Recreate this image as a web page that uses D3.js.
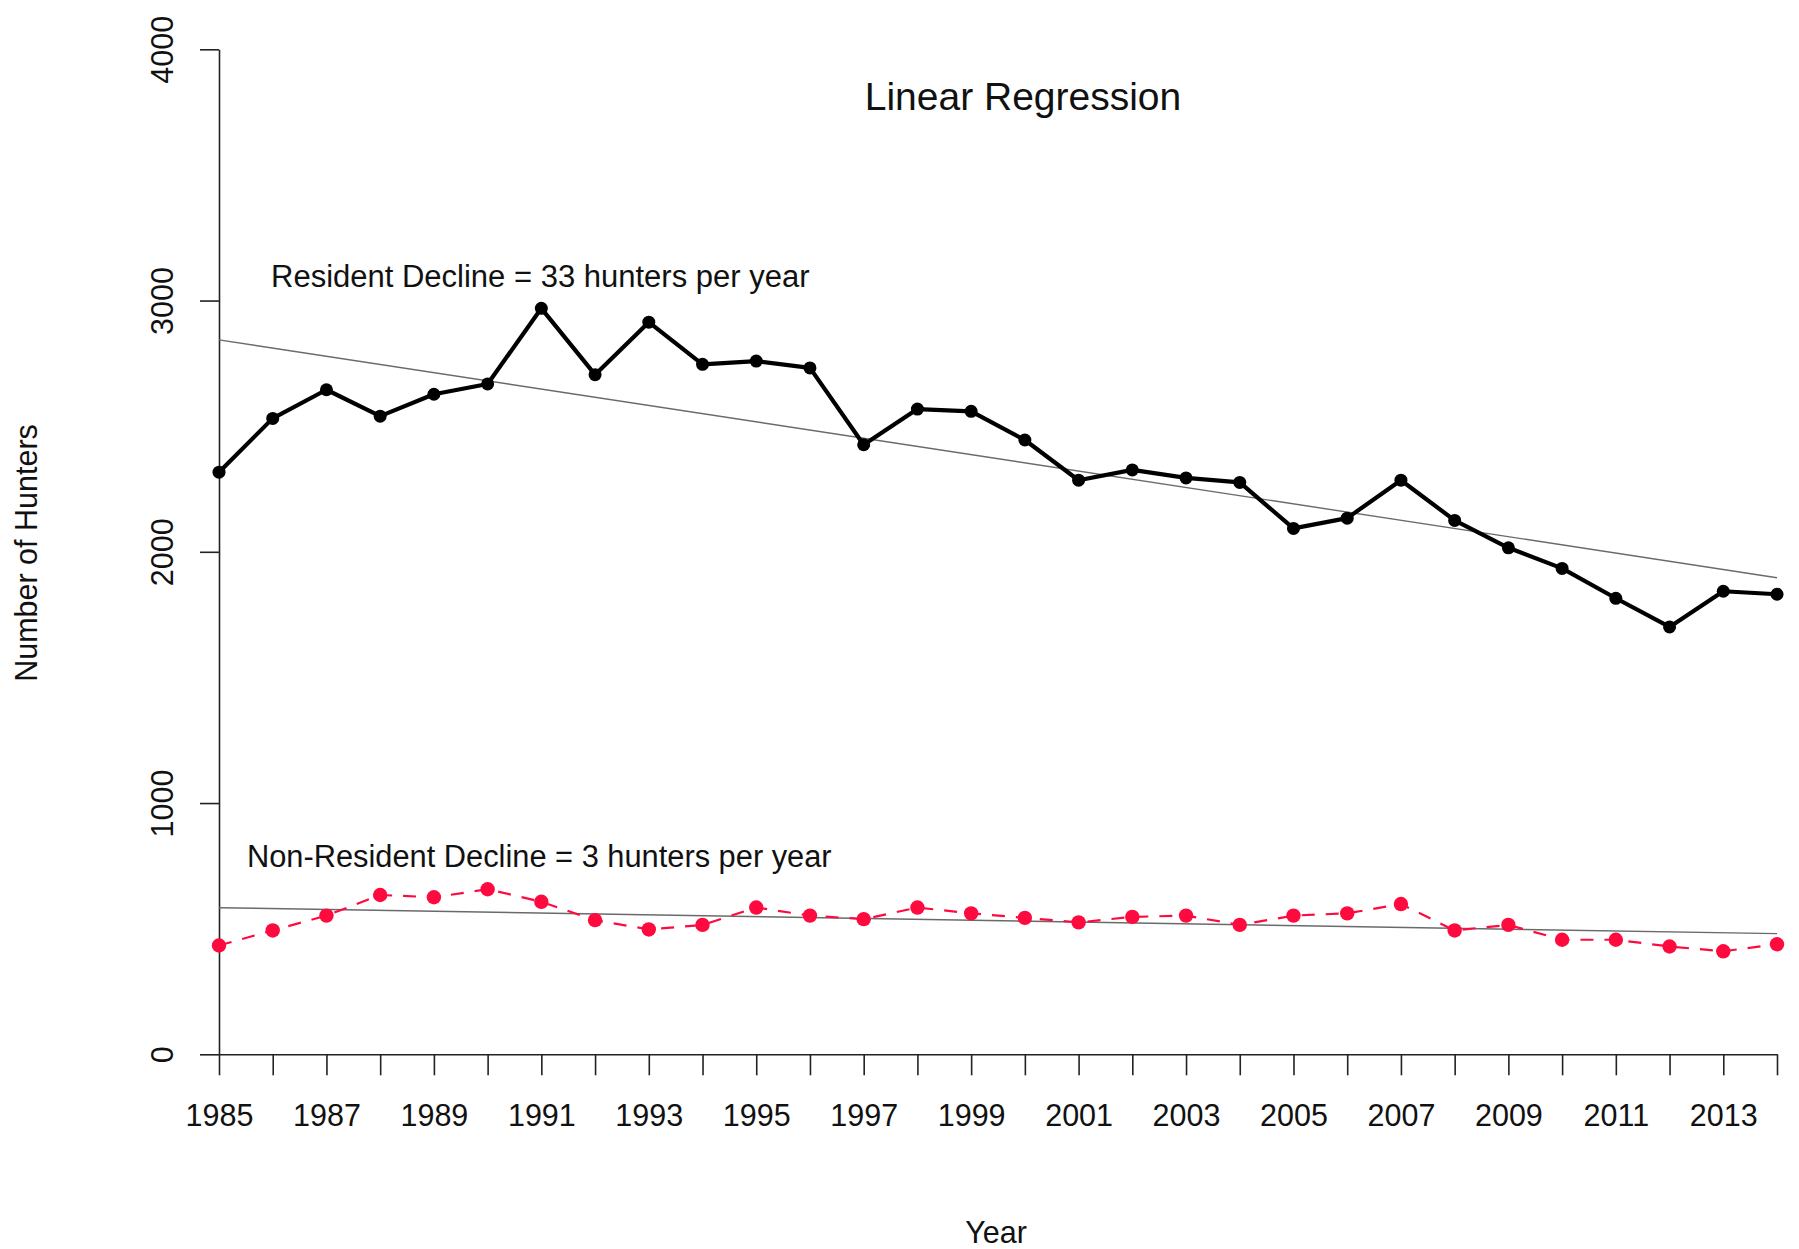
<!DOCTYPE html>
<html>
<head>
<meta charset="utf-8">
<script src="https://cdn.jsdelivr.net/npm/d3@7"></script>
<style>
  body { margin: 0; background: #fff; }
  text { font-family: "Liberation Sans", Arial, sans-serif; fill: #111; }
</style>
</head>
<body>
<script>
// data
var years = [1985,1986,1987,1988,1989,1990,1991,1992,1993,1994,1995,1996,1997,1998,1999,
             2000,2001,2002,2003,2004,2005,2006,2007,2008,2009,2010,2011,2012,2013,2014];
var resident = [2317,2531,2645,2540,2627,2668,2969,2705,2914,2746,2759,2732,2426,2568,2559,
                2445,2285,2326,2294,2276,2093,2134,2285,2125,2016,1934,1815,1701,1843,1831];
var nonResident = [433,493,552,634,625,657,607,534,497,515,584,552,538,584,561,
                   543,525,547,552,515,552,561,598,493,515,456,456,429,410,438];
var yTicks = [0,1000,2000,3000,4000];
var xLabelYears = [1985,1987,1989,1991,1993,1995,1997,1999,2001,2003,2005,2007,2009,2011,2013];

var width = 1799, height = 1249;
var svg = d3.select("body").append("svg")
    .attr("width", width)
    .attr("height", height);

svg.append("rect").attr("width", width).attr("height", height).attr("fill", "#fff");

/* scales */
var x = d3.scaleLinear().domain([1985, 2014]).range([219, 1777]);
var y = d3.scaleLinear().domain([0, 4000]).range([1054.3, 49.3]);

/* least squares fit */
function fit(xs, ys){
    var mx = d3.mean(xs), my = d3.mean(ys);
    var sxy = d3.sum(xs, function(v, i){ return (v - mx) * (ys[i] - my); });
    var sxx = d3.sum(xs, function(v){ return (v - mx) * (v - mx); });
    var b = sxy / sxx;
    return { a: my - b * mx, b: b };
}

/* axes */
var yAxis = svg.append("g")
    .attr("transform", "translate(" + x(1985) + ",0)")
    .call(d3.axisLeft(y).tickValues(yTicks).tickSize(19).tickSizeOuter(0).tickFormat(d3.format("d")));
yAxis.selectAll("text")
    .attr("transform", "rotate(-90)")
    .attr("x", 0).attr("y", -46).attr("dy", 0)
    .attr("text-anchor", "middle")
    .attr("font-size", 30.5);

var xAxis = svg.append("g")
    .attr("transform", "translate(0," + y(0) + ")")
    .call(d3.axisBottom(x).tickValues(years).tickSize(21).tickSizeOuter(0)
          .tickFormat(function(d){ return xLabelYears.indexOf(d) >= 0 ? d : ""; }));
xAxis.selectAll("text")
    .attr("y", 72).attr("dy", 0)
    .attr("font-size", 30.5);

svg.selectAll(".domain, .tick line").attr("stroke", "#222").attr("stroke-width", 1.6);
svg.selectAll(".tick text").attr("fill", "#111").attr("font-family", "Liberation Sans, Arial, sans-serif");

/* regression lines */
[resident, nonResident].forEach(function(series){
    var f = fit(years, series);
    svg.append("line")
        .attr("x1", x(1985)).attr("y1", y(f.a + f.b * 1985))
        .attr("x2", x(2014)).attr("y2", y(f.a + f.b * 2014))
        .attr("stroke", "#6a6a6a")
        .attr("stroke-width", 1.4);
});

var line = d3.line()
    .x(function(d, i){ return x(years[i]); })
    .y(function(d){ return y(d); });

/* resident series */
svg.append("path")
    .datum(resident)
    .attr("d", line)
    .attr("fill", "none")
    .attr("stroke", "#000")
    .attr("stroke-width", 4.2)
    .attr("stroke-linejoin", "round");
svg.selectAll(".res").data(resident).enter().append("circle")
    .attr("class", "res")
    .attr("cx", function(d, i){ return x(years[i]); })
    .attr("cy", function(d){ return y(d); })
    .attr("r", 6.5)
    .attr("fill", "#000");

/* non-resident series */
svg.append("path")
    .datum(nonResident)
    .attr("d", line)
    .attr("fill", "none")
    .attr("stroke", "#ff0a3f")
    .attr("stroke-width", 2.2)
    .attr("stroke-dasharray", "13,11");
svg.selectAll(".nonres").data(nonResident).enter().append("circle")
    .attr("class", "nonres")
    .attr("cx", function(d, i){ return x(years[i]); })
    .attr("cy", function(d){ return y(d); })
    .attr("r", 7.2)
    .attr("fill", "#ff0a3f");

/* texts */
svg.append("text")
    .attr("x", 1023).attr("y", 110)
    .attr("text-anchor", "middle")
    .attr("font-size", 39)
    .text("Linear Regression");

svg.append("text")
    .attr("x", 271).attr("y", 287)
    .attr("font-size", 31)
    .text("Resident Decline = 33 hunters per year");

svg.append("text")
    .attr("x", 247).attr("y", 867)
    .attr("font-size", 30.8)
    .text("Non-Resident Decline = 3 hunters per year");

svg.append("text")
    .attr("x", 996).attr("y", 1243)
    .attr("text-anchor", "middle")
    .attr("font-size", 30.5)
    .text("Year");

svg.append("text")
    .attr("transform", "translate(37,553) rotate(-90)")
    .attr("text-anchor", "middle")
    .attr("font-size", 30.5)
    .text("Number of Hunters");
</script>
</body>
</html>
